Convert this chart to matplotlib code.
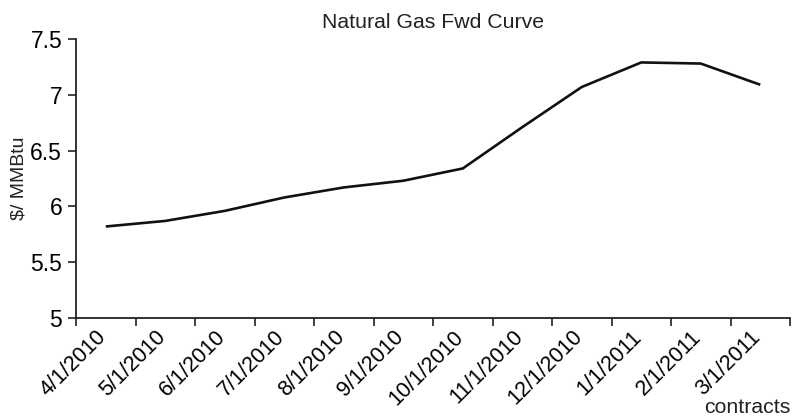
import matplotlib
matplotlib.use("Agg")
import matplotlib.pyplot as plt
from matplotlib.ticker import FixedLocator, NullFormatter

plt.rcParams['font.family'] = ['Liberation Sans', 'DejaVu Sans']

contracts = ["4/1/2010", "5/1/2010", "6/1/2010", "7/1/2010", "8/1/2010", "9/1/2010",
             "10/1/2010", "11/1/2010", "12/1/2010", "1/1/2011", "2/1/2011", "3/1/2011"]
prices = [5.82, 5.87, 5.96, 6.08, 6.17, 6.23, 6.34, 6.71, 7.07, 7.29, 7.28, 7.09]
y_ticks = [5, 5.5, 6, 6.5, 7, 7.5]
y_tick_labels = ["5", "5.5", "6", "6.5", "7", "7.5"]

fig = plt.figure(figsize=(7.92, 4.18), dpi=100)
ax = fig.add_axes([0.096, 0.2392, 0.9015, 0.6675])

x = list(range(len(contracts)))
ax.plot(x, prices, color='#111111', lw=1.9, solid_capstyle='butt')

ax.set_xlim(-0.5, len(contracts) - 0.5)
ax.set_ylim(5, 7.5)
ax.set_yticks(y_ticks)
ax.set_yticklabels(y_tick_labels)

ax.xaxis.set_major_locator(FixedLocator([i - 0.5 for i in range(len(contracts) + 1)]))
ax.xaxis.set_major_formatter(NullFormatter())
ax.xaxis.set_minor_locator(FixedLocator([i + 0.08 for i in x]))
ax.set_xticklabels(contracts, minor=True, rotation=45, ha='right', va='top',
                   rotation_mode='default', fontsize=15.5)
ax.tick_params(axis='x', which='minor', length=0, pad=6)
ax.tick_params(axis='x', which='major', length=6, width=1.2, direction='out', color='#222222')
ax.tick_params(axis='y', which='major', length=6, width=1.2, direction='out', labelsize=16.5,
               color='#222222', pad=4)

for s in ['top', 'right']:
    ax.spines[s].set_visible(False)
for s in ['left', 'bottom']:
    ax.spines[s].set_linewidth(1.3)
    ax.spines[s].set_color('#222222')

ax.set_title("Natural Gas Fwd Curve", fontsize=15.3, pad=8, color='#222222')
ax.set_ylabel("$/ MMBtu", fontsize=14, color='#222222', labelpad=2)
fig.text(0.998, 0.003, "contracts", ha='right', va='bottom', fontsize=15.3, color='#222222')

fig.savefig("out.png", dpi=100)
